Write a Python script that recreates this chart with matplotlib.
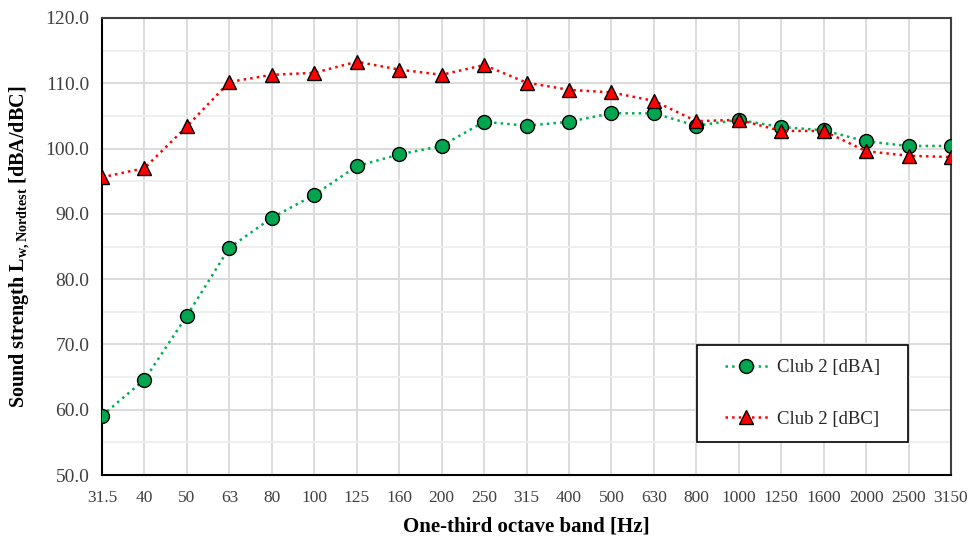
import matplotlib
matplotlib.use("Agg")
import matplotlib.pyplot as plt
from matplotlib.patches import Rectangle
from matplotlib.ticker import MultipleLocator

bands = ["31.5", "40", "50", "63", "80", "100", "125", "160", "200", "250", "315",
         "400", "500", "630", "800", "1000", "1250", "1600", "2000", "2500", "3150"]
club2_dba = [59.1, 64.6, 74.4, 84.8, 89.4, 92.9, 97.3, 99.1, 100.4, 104.1, 103.5,
             104.1, 105.4, 105.4, 103.5, 104.4, 103.3, 102.8, 101.1, 100.4, 100.4]
club2_dbc = [95.6, 97.0, 103.4, 110.2, 111.3, 111.6, 113.3, 112.1, 111.3, 112.8, 110.1,
             109.0, 108.6, 107.3, 104.2, 104.4, 102.7, 102.7, 99.6, 98.9, 98.7]

plt.rcParams['font.family'] = ['Liberation Serif', 'DejaVu Serif']
plt.rcParams['mathtext.default'] = 'regular'

fig = plt.figure(figsize=(9.69, 5.42), dpi=100)
ax = fig.add_axes([0.1053, 0.1236, 0.8761, 0.8432])

x = list(range(len(bands)))
ax.plot(x, club2_dba, linestyle=':', color='#00b050', linewidth=1.8,
        marker='o', markersize=10, markerfacecolor='#00a64f', markeredgecolor='black',
        markeredgewidth=1.0, label='Club 2 [dBA]', zorder=3)
ax.plot(x, club2_dbc, linestyle=':', color='#ff0000', linewidth=1.8,
        marker='^', markersize=10, markerfacecolor='#ff0000', markeredgecolor='black',
        markeredgewidth=1.0, label='Club 2 [dBC]', zorder=4)

ax.set_xlim(0, len(bands) - 1)
ax.set_ylim(50, 120)
ax.set_xticks(x)
ax.set_xticklabels(bands)
ax.yaxis.set_major_locator(MultipleLocator(10))
ax.yaxis.set_minor_locator(MultipleLocator(5))
ax.yaxis.set_major_formatter(matplotlib.ticker.FormatStrFormatter('%.1f'))

ax.grid(True, which='major', color='#d9d9d9', linewidth=1.3, zorder=0)
ax.grid(True, which='minor', axis='y', color='#eeeeee', linewidth=1.3, zorder=0)
ax.set_axisbelow(True)
ax.tick_params(which='both', length=0, labelsize=14, colors='#404040', pad=9)
ax.tick_params(axis='x', labelsize=12.5, pad=11)

for side in ['left', 'bottom']:
    ax.spines[side].set_color('black')
    ax.spines[side].set_linewidth(1.5)
for side in ['top', 'right']:
    ax.spines[side].set_color('#404040')
    ax.spines[side].set_linewidth(1.5)

ax.set_xlabel('One-third octave band [Hz]', fontsize=15, fontweight='bold', labelpad=7)
ax.set_ylabel('Sound strength L$_{w,Nordtest}$ [dBA/dBC]', fontsize=14.5,
              fontweight='bold', labelpad=10)

# legend box drawn separately so the entries sit centred in it
ax.add_patch(Rectangle((0.701, 0.073), 0.248, 0.211, transform=ax.transAxes,
                       facecolor='white', edgecolor='black', linewidth=1.2, zorder=5))
leg = ax.legend(loc='center', bbox_to_anchor=(0.825, 0.1785), fontsize=13.5,
                labelspacing=1.85, handlelength=2.3, handletextpad=0.5,
                frameon=False, borderaxespad=0)
leg.set_zorder(6)
for t in leg.get_texts():
    t.set_color('#262626')

fig.savefig('out.png', dpi=100)
